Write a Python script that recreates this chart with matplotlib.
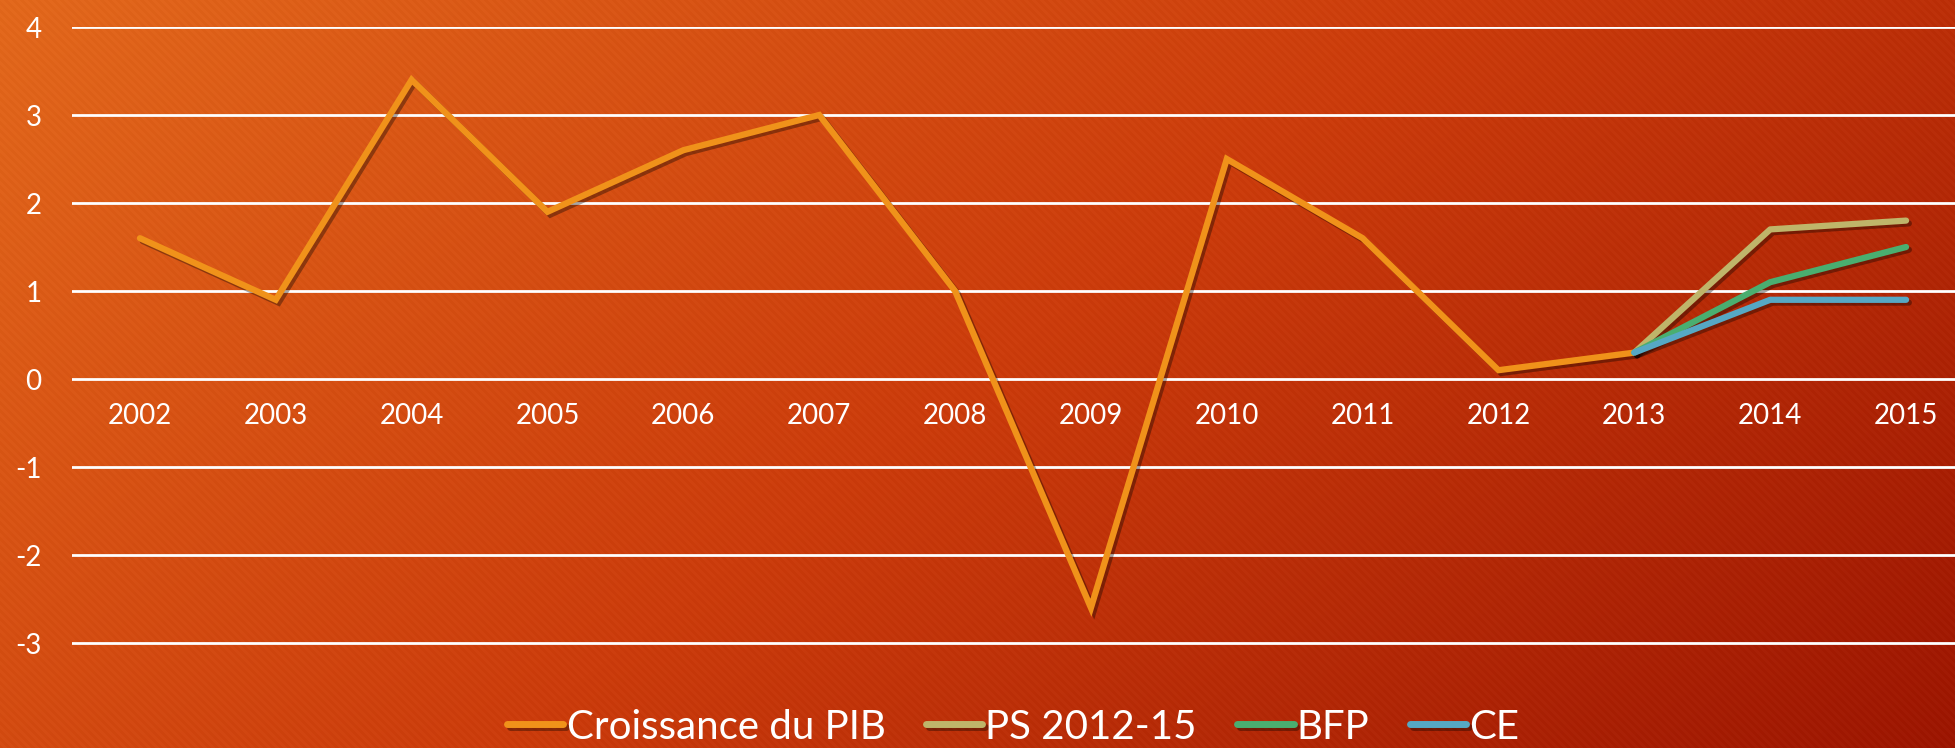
import numpy as np
import matplotlib
matplotlib.use("Agg")
import matplotlib.pyplot as plt
import matplotlib.patheffects as pe

plt.rcParams['font.family'] = ['Lato', 'DejaVu Sans']

# Data
years = ["2002", "2003", "2004", "2005", "2006", "2007", "2008",
         "2009", "2010", "2011", "2012", "2013", "2014", "2015"]
pib = [1.6, 0.9, 3.4, 1.9, 2.6, 3.0, 1.0, -2.6, 2.5, 1.6, 0.1, 0.3]
forecast_years = ["2013", "2014", "2015"]
ps = [0.3, 1.7, 1.8]
bfp = [0.3, 1.1, 1.5]
ce = [0.3, 0.9, 0.9]

series_labels = ["Croissance du PIB", "PS 2012-15", "BFP", "CE"]
series_colors = ["#F0921A", "#BFB56A", "#4AAE70", "#56A8C4"]
y_ticks = [-3, -2, -1, 0, 1, 2, 3, 4]

W, H = 1956, 748
fig = plt.figure(figsize=(W / 100, H / 100), dpi=100)

# Background gradient with faint diagonal stripes
bg = fig.add_axes([0, 0, 1, 1], zorder=0)
yy, xx = np.mgrid[0:H, 0:W]
t = (xx + yy * 1.3) / (W + H * 1.3)
c0 = np.array([228, 106, 30]) / 255.0
c1 = np.array([205, 62, 14]) / 255.0
c2 = np.array([158, 24, 4]) / 255.0
t3 = t[..., None]
img = np.where(t3 < 0.5, c0 + (c1 - c0) * (t3 / 0.5), c1 + (c2 - c1) * ((t3 - 0.5) / 0.5))
stripes = (((xx - yy) // 4) % 2) * 0.015
img = np.clip(img - stripes[..., None], 0, 1)
bg.imshow(img, aspect="auto", extent=[0, 1, 0, 1])
bg.axis("off")

ax = fig.add_axes([72 / W, 1 - 687 / H, 1902 / W, 660 / H], zorder=1)
ax.patch.set_alpha(0)

x_all = np.arange(len(years))
x_pib = x_all[:len(pib)]
x_fc = np.array([years.index(y) for y in forecast_years])

shadow = [pe.SimpleLineShadow(offset=(2, -2), alpha=0.35, shadow_color="black"), pe.Normal()]
lw = 4.5
ax.plot(x_pib, pib, color=series_colors[0], lw=lw, label=series_labels[0],
        solid_capstyle="round", solid_joinstyle="miter", path_effects=shadow, zorder=3)
ax.plot(x_fc, ps, color=series_colors[1], lw=lw, label=series_labels[1],
        solid_capstyle="round", path_effects=shadow, zorder=4)
ax.plot(x_fc, bfp, color=series_colors[2], lw=lw, label=series_labels[2],
        solid_capstyle="round", path_effects=shadow, zorder=5)
ax.plot(x_fc, ce, color=series_colors[3], lw=lw, label=series_labels[3],
        solid_capstyle="round", path_effects=shadow, zorder=6)

ax.set_xlim(-0.5, 13.5)
ax.set_ylim(-3.5, 4)
ax.set_yticks(y_ticks)
ax.set_yticklabels([str(v) for v in y_ticks])
ax.yaxis.grid(True, color="white", lw=2)
ax.set_axisbelow(True)

ax.set_xticks(x_all)
ax.set_xticklabels(years)
ax.spines["bottom"].set_position(("data", 0))
for s in ax.spines.values():
    s.set_visible(False)
ax.tick_params(axis="x", length=0, pad=17, labelsize=20, labelcolor="white")
ax.tick_params(axis="y", length=0, pad=22, labelsize=20, labelcolor="white")

leg = fig.legend(loc="center", bbox_to_anchor=(0.518, 0.028), ncol=4, frameon=False,
                 fontsize=29, handlelength=1.4, handletextpad=0.08, columnspacing=1.0)
for txt in leg.get_texts():
    txt.set_color("white")
for h in leg.get_lines():
    h.set_linewidth(5)
    h.set_solid_capstyle("round")

fig.savefig("out.png", dpi=100)
